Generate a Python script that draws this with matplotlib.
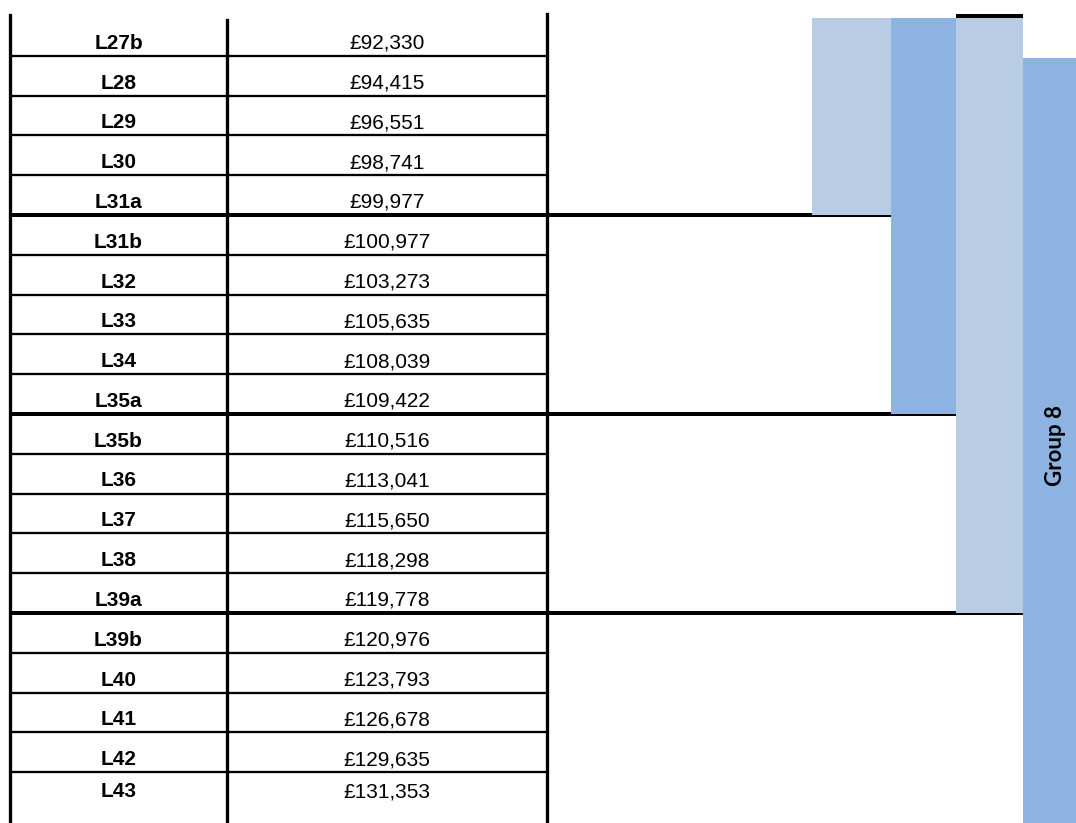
import matplotlib
matplotlib.use("Agg")
import matplotlib.pyplot as plt
from matplotlib.patches import Rectangle

# pay points and salaries
grades = ["L27b", "L28", "L29", "L30", "L31a", "L31b", "L32", "L33", "L34", "L35a",
          "L35b", "L36", "L37", "L38", "L39a", "L39b", "L40", "L41", "L42", "L43"]
salaries = [92330, 94415, 96551, 98741, 99977, 100977, 103273, 105635, 108039, 109422,
            110516, 113041, 115650, 118298, 119778, 120976, 123793, 126678, 129635, 131353]

# bracket bars to the right of the table (first row, last row)
span_first = [0, 0, 0, 1]
span_last = [4, 9, 14, 19]
span_colors = ["#B8CCE4", "#8DB3E2", "#B8CCE4", "#8DB3E2"]
span_labels = ["", "", "", "Group 8"]

W, H = 1076, 823
fig = plt.figure(figsize=(W / 100, H / 100), dpi=100)
ax = fig.add_axes([0, 0, 1, 1])
ax.set_xlim(0, W)
ax.set_ylim(H, 0)
ax.axis("off")

px = 0.72  # points per pixel

# layout
x_left, x_mid, x_right = 10, 227, 547
span_x = [812, 891, 956, 1023, W + 5]
n = len(grades)
edges = [18] + [55.7 + 39.8 * k for k in range(n - 1)] + [H]
group_ends = [e + 1 for e in span_last[:-1]]

# table text
for i in range(n):
    top, bot = edges[i], edges[i + 1]
    yb = bot - 7 if i < n - 1 else 797
    ax.text((x_left + x_mid) / 2, yb, grades[i], ha="center", va="baseline",
            fontsize=15, fontweight="bold", family="Liberation Sans")
    ax.text((x_mid + x_right) / 2, yb, "£{:,}".format(salaries[i]), ha="center",
            va="baseline", fontsize=15, family="Liberation Sans")

# row lines inside the table
for i in range(1, n):
    y = edges[i]
    if i in group_ends:
        ax.plot([x_left, W], [y, y], color="black", lw=4 * px, zorder=1,
                solid_capstyle="butt")
    else:
        ax.plot([x_left, x_right], [y, y], color="black", lw=2.3 * px, zorder=1,
                solid_capstyle="butt")

# vertical borders
ax.plot([x_left, x_left], [15, H], color="black", lw=3.3 * px, zorder=3)
ax.plot([x_mid, x_mid], [20, H], color="black", lw=3.3 * px, zorder=3)
ax.plot([x_right, x_right], [14, H], color="black", lw=3.3 * px, zorder=3)

# bracket bars
for j in range(len(span_first)):
    y0 = edges[span_first[j]]
    if span_first[j] > 0:
        y0 += 2.5
    y1 = edges[span_last[j] + 1]
    x0, x1 = span_x[j], span_x[j + 1]
    ax.add_patch(Rectangle((x0, y0), x1 - x0, y1 - y0, facecolor=span_colors[j],
                           edgecolor="none", zorder=2))
    if span_labels[j]:
        ax.text(1056, 445, span_labels[j], rotation=90, ha="center", va="center",
                fontsize=16, fontweight="bold", family="Lato", zorder=4)

# cap line above the third bar
ax.plot([span_x[2], span_x[3]], [16, 16], color="black", lw=4 * px, zorder=3,
        solid_capstyle="butt")

fig.savefig("out.png", dpi=100)
